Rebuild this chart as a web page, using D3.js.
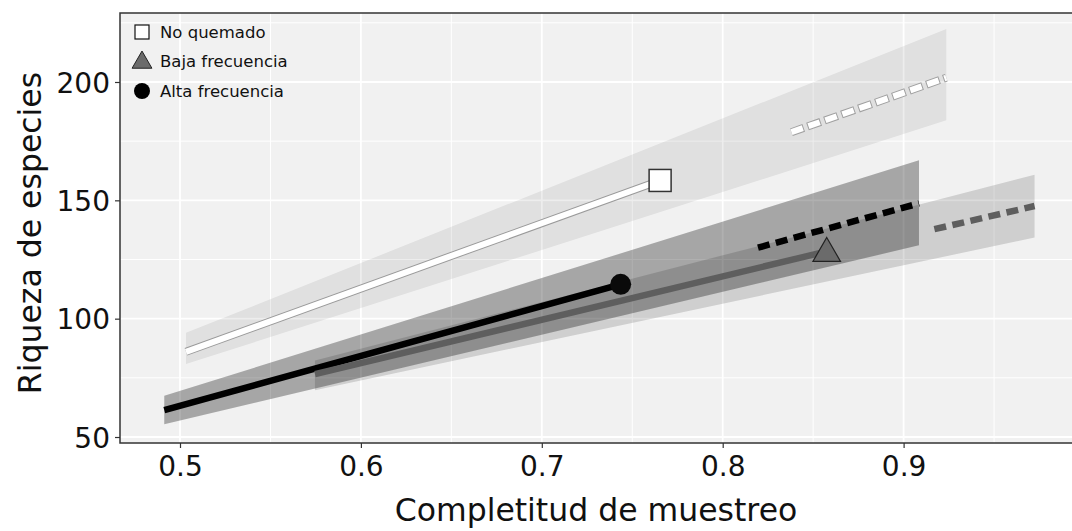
<!DOCTYPE html>
<html>
<head>
<meta charset="utf-8">
<script src="https://cdn.jsdelivr.net/npm/d3@7"></script>
<style>
  body { margin: 0; background: #fff; }
  text { font-family: "DejaVu Sans", Verdana, sans-serif; }
</style>
</head>
<body>
<div id="chart"></div>
<script>
// data
const legendNames = ['No quemado', 'Baja frecuencia', 'Alta frecuencia'];
const xTicks = [0.5, 0.6, 0.7, 0.8, 0.9];
const yTicks = [50, 100, 150, 200];

// [completitud, riqueza]
const quemadoSolid = [[0.5033, 86], [0.7654, 158.4]];
const quemadoDash = [[0.838, 178.8], [0.9236, 201.8]];
const quemadoBand = [[0.5033, 80.8, 94], [0.9236, 183.8, 222.4]];
const quemadoPoint = [0.7654, 158.4];

const altaSolid = [[0.4913, 61.4], [0.7436, 114.5]];
const altaDash = [[0.8195, 130], [0.9085, 148.7]];
const altaBand = [[0.4913, 55.4, 67.4], [0.9085, 131, 166.9]];
const altaPoint = [0.7436, 114.5];

const bajaSolid = [[0.5746, 76.6], [0.8575, 128.4]];
const bajaDash = [[0.917, 137.8], [0.9724, 147.6]];
const bajaBand = [[0.5746, 69.8, 82.3], [0.9724, 134.3, 160.8]];
const bajaPoint = [0.8575, 128.4];

const W = 1072, H = 531;
const margin = { top: 13, right: -6, bottom: 88, left: 120 };
const width = W - margin.left - margin.right;
const height = H - margin.top - margin.bottom;

const svg = d3.select('#chart').append('svg')
  .attr('width', W)
  .attr('height', H);

const g = svg.append('g')
  .attr('transform', `translate(${margin.left}, ${margin.top})`);

const x = d3.scaleLinear().domain([0.46683, 0.46683 + width / 1809]).range([0, width]);
const y = d3.scaleLinear().domain([47.47, 229.15]).range([height, 0]);

// panel
g.append('rect')
  .attr('width', width).attr('height', height)
  .attr('fill', '#f1f1f1');

// grid: minor then major
const xMinor = [0.55, 0.65, 0.75, 0.85, 0.95];
const yMinor = [75, 125, 175, 225];
g.selectAll('.xminor').data(xMinor).enter().append('line')
  .attr('x1', d => x(d)).attr('x2', d => x(d))
  .attr('y1', 0).attr('y2', height)
  .attr('stroke', '#fff').attr('stroke-width', 1);
g.selectAll('.yminor').data(yMinor).enter().append('line')
  .attr('y1', d => y(d)).attr('y2', d => y(d))
  .attr('x1', 0).attr('x2', width)
  .attr('stroke', '#fff').attr('stroke-width', 1);
g.selectAll('.xmajor').data(xTicks).enter().append('line')
  .attr('x1', d => x(d)).attr('x2', d => x(d))
  .attr('y1', 0).attr('y2', height)
  .attr('stroke', '#fff').attr('stroke-width', 1.8);
g.selectAll('.ymajor').data(yTicks).enter().append('line')
  .attr('y1', d => y(d)).attr('y2', d => y(d))
  .attr('x1', 0).attr('x2', width)
  .attr('stroke', '#fff').attr('stroke-width', 1.8);

const line = d3.line().x(d => x(d[0])).y(d => y(d[1]));
const area = d3.area().x(d => x(d[0])).y0(d => y(d[1])).y1(d => y(d[2]));

const plot = g.append('g');

// No quemado
plot.append('path').datum(quemadoBand).attr('d', area)
  .attr('fill', '#000').attr('fill-opacity', 0.07);
plot.append('path').datum(quemadoSolid).attr('d', line)
  .attr('fill', 'none').attr('stroke', '#9a9a9a').attr('stroke-width', 8);
plot.append('path').datum(quemadoSolid).attr('d', line)
  .attr('fill', 'none').attr('stroke', '#fff').attr('stroke-width', 6);
plot.append('path').datum(quemadoDash).attr('d', line)
  .attr('fill', 'none').attr('stroke', '#a0a0a0').attr('stroke-width', 8)
  .attr('stroke-dasharray', '14 4').attr('stroke-dashoffset', 1);
plot.append('path').datum(quemadoDash).attr('d', line)
  .attr('fill', 'none').attr('stroke', '#fff').attr('stroke-width', 6)
  .attr('stroke-dasharray', '12 6');

// Alta frecuencia
plot.append('path').datum(altaBand).attr('d', area)
  .attr('fill', '#000').attr('fill-opacity', 0.31);
plot.append('path').datum(altaSolid).attr('d', line)
  .attr('fill', 'none').attr('stroke', '#000').attr('stroke-width', 6.5);
plot.append('path').datum(altaDash).attr('d', line)
  .attr('fill', 'none').attr('stroke', '#000').attr('stroke-width', 6.5)
  .attr('stroke-dasharray', '12 6.5');

// Baja frecuencia
plot.append('path').datum(bajaBand).attr('d', area)
  .attr('fill', '#000').attr('fill-opacity', 0.14);
plot.append('path').datum(bajaSolid).attr('d', line)
  .attr('fill', 'none').attr('stroke', '#5e5e5e').attr('stroke-width', 6.5);
plot.append('path').datum(bajaDash).attr('d', line)
  .attr('fill', 'none').attr('stroke', '#5e5e5e').attr('stroke-width', 6.5)
  .attr('stroke-dasharray', '12 6.5');

// markers
plot.append('rect')
  .attr('x', x(quemadoPoint[0]) - 11).attr('y', y(quemadoPoint[1]) - 11)
  .attr('width', 22).attr('height', 22)
  .attr('fill', '#fff').attr('stroke', '#333').attr('stroke-width', 1.5);
plot.append('circle')
  .attr('cx', x(altaPoint[0])).attr('cy', y(altaPoint[1])).attr('r', 10.5)
  .attr('fill', '#0a0a0a');
const tri = d3.symbol().type(d3.symbolTriangle).size(330);
plot.append('path')
  .attr('d', tri)
  .attr('transform', `translate(${x(bajaPoint[0])}, ${y(bajaPoint[1]) + 2})`)
  .attr('fill', '#6b6b6b').attr('stroke', '#222').attr('stroke-width', 1.2);

// axes
const xAxis = d3.axisBottom(x).tickValues(xTicks).tickSize(5).tickPadding(6).tickFormat(d3.format('.1f'));
const yAxis = d3.axisLeft(y).tickValues(yTicks).tickSize(5).tickPadding(5);

const gx = g.append('g').attr('transform', `translate(0, ${height})`).call(xAxis);
const gy = g.append('g').call(yAxis);
[gx, gy].forEach(a => {
  a.select('.domain').remove();
  a.selectAll('line').attr('stroke', '#333').attr('stroke-width', 1.2);
  a.selectAll('text').attr('fill', '#111').style('font-size', '28px')
    .style('font-family', '"DejaVu Sans", Verdana, sans-serif');
});
gx.selectAll('text').attr('dy', '0.8em');
gy.selectAll('text').attr('dy', '0.36em');

// panel border
g.append('rect')
  .attr('width', width).attr('height', height)
  .attr('fill', 'none').attr('stroke', '#333').attr('stroke-width', 1.5);

// axis titles
svg.append('text')
  .attr('x', 596).attr('y', 521)
  .attr('text-anchor', 'middle')
  .style('font-size', '31.5px').attr('fill', '#111')
  .text('Completitud de muestreo');
svg.append('text')
  .attr('transform', 'translate(41, 233) rotate(-90)')
  .attr('text-anchor', 'middle')
  .style('font-size', '31.5px').attr('fill', '#111')
  .text('Riqueza de especies');

// legend
const legend = g.append('g').attr('transform', 'translate(22, 19)');
const rowH = 29.5;
legend.append('rect')
  .attr('x', -7).attr('y', -7).attr('width', 14).attr('height', 14)
  .attr('fill', '#fff').attr('stroke', '#111').attr('stroke-width', 1.2);
legend.append('path')
  .attr('d', d3.symbol().type(d3.symbolTriangle).size(170))
  .attr('transform', `translate(0, ${rowH + 1})`)
  .attr('fill', '#6b6b6b').attr('stroke', '#222').attr('stroke-width', 1);
legend.append('circle')
  .attr('cx', 0).attr('cy', rowH * 2).attr('r', 8).attr('fill', '#000');
legend.selectAll('.lab').data(legendNames).enter().append('text')
  .attr('class', 'lab')
  .attr('x', 18).attr('y', (d, i) => i * rowH)
  .attr('dy', '0.35em')
  .style('font-size', '16.5px').attr('fill', '#111')
  .text(d => d);
</script>
</body>
</html>
